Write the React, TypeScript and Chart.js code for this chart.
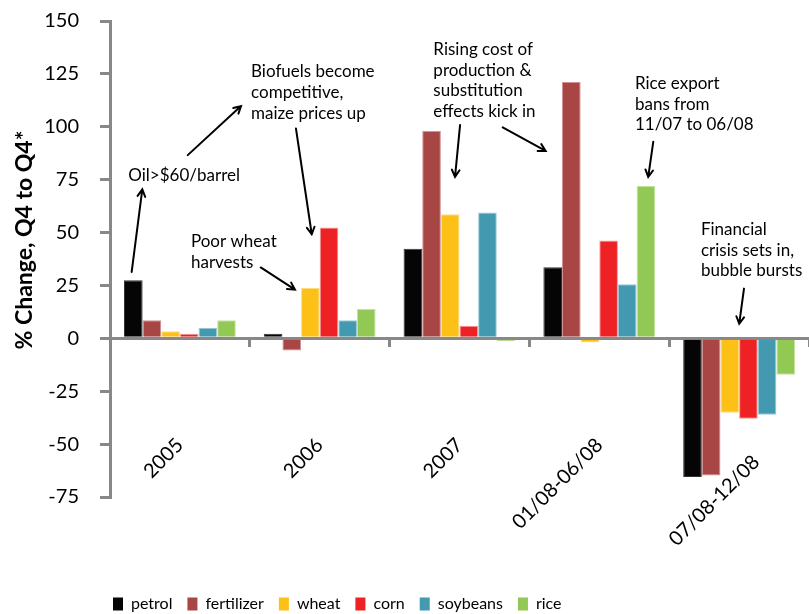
import React, { useEffect, useRef } from 'react';
import { Chart, registerables } from 'chart.js';

Chart.register(...registerables);

const categories = ['2005', '2006', '2007', '01/08-06/08', '07/08-12/08'];

const petrol = [27.4, 2.2, 42.4, 33.6, -65.6];
const fertilizer = [8.5, -5.7, 98, 121.2, -64.8];
const wheat = [3.3, 23.8, 58.7, -2.0, -35.2];
const corn = [2.2, 52.4, 6.0, 46.2, -38.0];
const soybeans = [5.0, 8.5, 59.5, 25.6, -36.1];
const rice = [8.5, 13.9, -1.3, 72.1, -17.2];

const seriesNames = ['petrol', 'fertilizer', 'wheat', 'corn', 'soybeans', 'rice'];
const seriesValues = [petrol, fertilizer, wheat, corn, soybeans, rice];
const seriesColors = ['#050505', '#A84545', '#FCC016', '#EE2225', '#4299B0', '#92C954'];
const seriesBorders = ['#333333', '#CF9090', '#FDDC80', '#F59A9A', '#9CCAD6', '#C6E3A6'];

const yMin = -75;
const yMax = 150;
const yStep = 25;

const yTitle = '% Change, Q4 to Q4*';

// annotation texts: x in category index units, y in value units (first line centre)
const noteTexts = [
  { lines: ['Oil>$60/barrel'], x: -0.369, y: 77.1 },
  { lines: ['Biofuels become', 'competitive,', 'maize prices up'], x: 0.509, y: 126.0 },
  { lines: ['Poor wheat', 'harvests'], x: 0.079, y: 45.6 },
  { lines: ['Rising cost of', 'production &', 'substitution', 'effects kick in'], x: 1.813, y: 136.6 },
  { lines: ['Rice export', 'bans from', '11/07 to 06/08'], x: 3.255, y: 120.5 },
  { lines: ['Financial', 'crisis sets in,', 'bubble bursts'], x: 3.727, y: 51.4 },
];

const noteArrows = [
  { x0: -0.345, y0: 31.4, x1: -0.269, y1: 70.4 },
  { x0: 0.056, y0: 86.6, x1: 0.437, y1: 109.8 },
  { x0: 0.83, y0: 99.2, x1: 0.943, y1: 49.2 },
  { x0: 0.578, y0: 33.5, x1: 0.823, y1: 23.0 },
  { x0: 2.004, y0: 100.8, x1: 1.968, y1: 76.3 },
  { x0: 2.309, y0: 99.7, x1: 2.616, y1: 88.6 },
  { x0: 3.386, y0: 92.9, x1: 3.35, y1: 76.3 },
  { x0: 4.035, y0: 23.5, x1: 4.001, y1: 6.9 },
];

const FONT = 'Lato, "Open Sans", sans-serif';
const AXIS_GRAY = '#888888';

const zeroPadding = (s: any) => {
  s.paddingLeft = 0;
  s.paddingRight = 0;
  s.paddingTop = 0;
  s.paddingBottom = 0;
};

const notesPlugin = {
  id: 'notes',
  afterLayout(chart: any) {
    // start the legend just right of the value axis
    if (chart.legend) {
      chart.legend.left = chart.chartArea.left - 12;
    }
  },
  afterDraw(chart: any) {
    const { ctx } = chart;
    const xs = chart.scales.x;
    const ys = chart.scales.y;
    ctx.save();
    ctx.fillStyle = '#000';
    ctx.font = `17px ${FONT}`;
    ctx.textAlign = 'left';
    ctx.textBaseline = 'middle';
    noteTexts.forEach((n) => {
      const px = xs.getPixelForValue(n.x);
      const py = ys.getPixelForValue(n.y);
      n.lines.forEach((line, i) => ctx.fillText(line, px, py + i * 20.7));
    });
    ctx.strokeStyle = '#000';
    ctx.lineWidth = 2;
    ctx.lineCap = 'round';
    noteArrows.forEach((a) => {
      const px0 = xs.getPixelForValue(a.x0);
      const py0 = ys.getPixelForValue(a.y0);
      const px1 = xs.getPixelForValue(a.x1);
      const py1 = ys.getPixelForValue(a.y1);
      const ang = Math.atan2(py1 - py0, px1 - px0);
      const hl = 8;
      ctx.beginPath();
      ctx.moveTo(px0, py0);
      ctx.lineTo(px1, py1);
      ctx.moveTo(px1 - hl * Math.cos(ang - 0.5), py1 - hl * Math.sin(ang - 0.5));
      ctx.lineTo(px1, py1);
      ctx.lineTo(px1 - hl * Math.cos(ang + 0.5), py1 - hl * Math.sin(ang + 0.5));
      ctx.stroke();
    });
    // y axis title
    ctx.translate(32, 240);
    ctx.rotate(-Math.PI / 2);
    ctx.font = `bold 23px ${FONT}`;
    ctx.textAlign = 'center';
    ctx.textBaseline = 'alphabetic';
    ctx.fillText(yTitle, 0, 0);
    ctx.restore();
  },
};

export default function App() {
  const canvasRef = useRef<HTMLCanvasElement | null>(null);

  useEffect(() => {
    if (!canvasRef.current) return;
    const chart = new Chart(canvasRef.current, {
      type: 'bar',
      data: {
        labels: categories,
        datasets: seriesNames.map((name, i) => ({
          label: name,
          data: seriesValues[i],
          backgroundColor: seriesColors[i],
          borderColor: seriesBorders[i],
          borderWidth: 1,
          categoryPercentage: 0.8,
          barPercentage: 1.0,
          xAxisID: 'x',
          yAxisID: 'y',
        })),
      },
      options: {
        animation: false,
        responsive: true,
        maintainAspectRatio: false,
        layout: { padding: { left: 0, top: 21, right: 0, bottom: -8 } },
        plugins: {
          tooltip: { enabled: false },
          legend: {
            position: 'bottom',
            align: 'start',
            labels: {
              boxWidth: 10,
              boxHeight: 13,
              padding: 15,
              color: '#000',
              font: { family: FONT, size: 16 },
              generateLabels: (c: any) =>
                Chart.defaults.plugins.legend.labels
                  .generateLabels(c)
                  .map((l: any) => ({ ...l, lineWidth: 0, strokeStyle: l.fillStyle })),
            },
          },
        },
        scales: {
          x: {
            type: 'category',
            position: { y: 0 } as any,
            offset: true,
            grid: {
              display: true,
              offset: true,
              drawOnChartArea: false,
              drawTicks: true,
              tickLength: 7,
              color: AXIS_GRAY,
              lineWidth: 3,
            },
            border: { display: true, color: AXIS_GRAY, width: 3 },
            ticks: {
              autoSkip: false,
              minRotation: 45,
              maxRotation: 45,
              padding: 88,
              color: '#000',
              font: { family: FONT, size: 20 },
              // the last label sits one line lower, clear of the negative bars
              callback: (_v: any, i: number) =>
                i === categories.length - 1 ? ['', categories[i]] : categories[i],
            },
            afterFit: zeroPadding,
          },
          spacer: {
            type: 'category',
            labels: categories,
            position: 'bottom',
            grid: { display: false, drawTicks: false },
            border: { display: false },
            ticks: { display: false },
            afterFit: (s: any) => {
              zeroPadding(s);
              s.height = 84;
            },
          },
          y: {
            type: 'linear',
            min: yMin,
            max: yMax,
            position: 'left',
            grid: {
              display: true,
              drawOnChartArea: false,
              drawTicks: true,
              tickLength: 10,
              color: AXIS_GRAY,
              lineWidth: 3,
            },
            border: { display: true, color: AXIS_GRAY, width: 3 },
            ticks: {
              stepSize: yStep,
              padding: 21,
              color: '#000',
              font: { family: FONT, size: 20 },
            },
            afterFit: (s: any) => {
              zeroPadding(s);
              s.width = 110;
            },
          },
        },
      } as any,
      plugins: [notesPlugin],
    });
    return () => chart.destroy();
  }, []);

  return (
    <div style={{ position: 'fixed', left: 0, top: 0, width: 809, height: 614, background: '#fff' }}>
      <canvas ref={canvasRef} />
    </div>
  );
}
